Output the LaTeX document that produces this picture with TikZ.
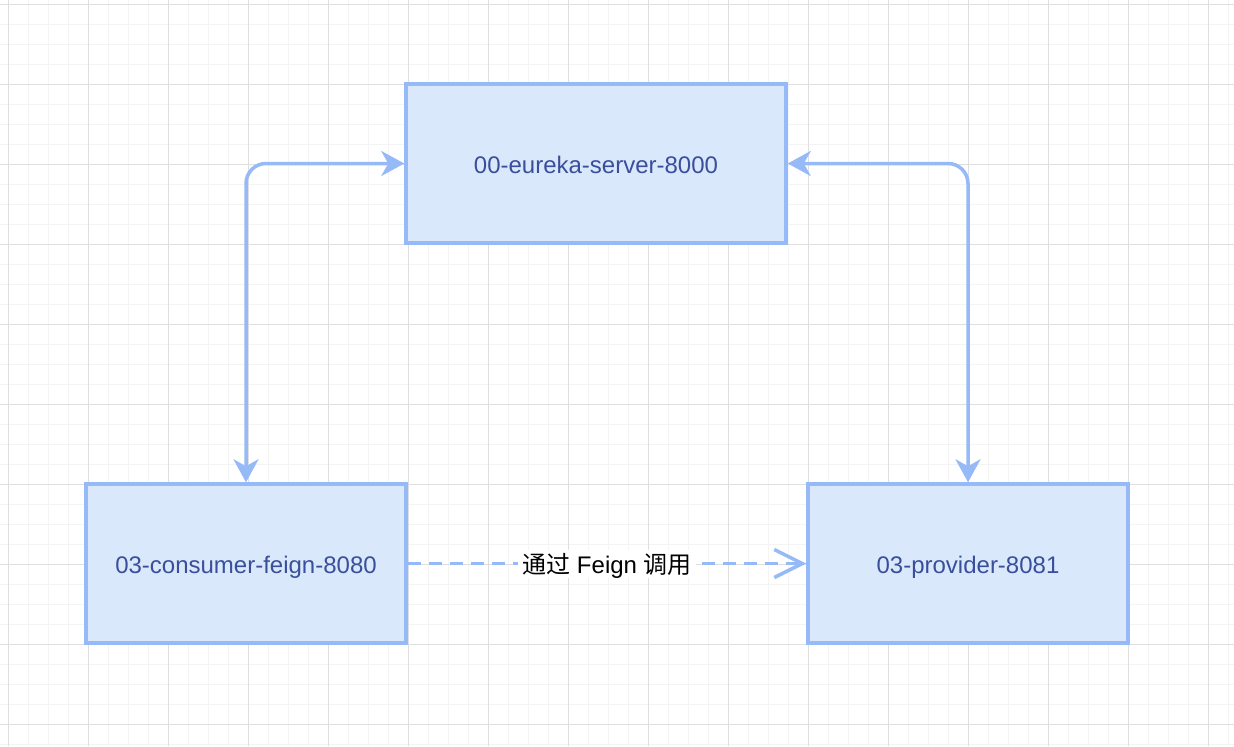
\documentclass[tikz,border=0pt]{standalone}
\usepackage{fontspec}
\setmainfont{Liberation Sans}
\newfontfamily\cjk{Noto Sans CJK SC}
\usetikzlibrary{positioning,arrows.meta}
\usepackage{xcolor}

\definecolor{boxfill}{HTML}{DAE8FC}
\definecolor{boxline}{HTML}{96B9F8}
\definecolor{boxtext}{HTML}{3A4F9C}
\definecolor{gridminor}{HTML}{F4F4F4}
\definecolor{gridmajor}{HTML}{DFDFDF}

\tikzset{
  service/.style={draw=boxline, fill=boxfill, line width=1.75pt, text=boxtext,
    minimum width=160pt, minimum height=79.5pt, inner sep=0pt,
    text height=10pt, text depth=0pt, font=\fontsize{12pt}{14pt}\selectfont},
  register/.style={draw=boxline, line width=1.75pt, rounded corners=10pt,
    {Stealth[length=11.5pt,width=12.5pt,inset=3.5pt]}-{Stealth[length=11.5pt,width=12.5pt,inset=3.5pt]}},
  call/.style={draw=boxline, line width=1.75pt, dash pattern=on 6.5pt off 4pt,
    -{Straight Barb[length=14pt,width=14pt]}},
  minorgrid/.style={draw=gridminor, line width=0.5pt},
  majorgrid/.style={draw=gridmajor, line width=0.5pt}
}

\begin{document}
\begin{tikzpicture}[x=0.5pt,y=-0.5pt]

\useasboundingbox (0,0) rectangle (1234,746);
\fill[white] (0,0) rectangle (1234,746);

% grid
\foreach \x in {8,28,...,1228} \draw[minorgrid] (\x,0) -- (\x,746);
\foreach \y in {4,24,...,744} \draw[minorgrid] (0,\y) -- (1234,\y);
\foreach \x in {8,88,...,1208} \draw[majorgrid] (\x,0) -- (\x,746);
\foreach \y in {4,84,...,724} \draw[majorgrid] (0,\y) -- (1234,\y);

% services
\node[service, minimum width=190pt] (eureka) at (596,163.5) {00-eureka-server-8000};
\node[service] (consumer) at (246,563.5) {03-consumer-feign-8080};
\node[service] (provider) at (968,563.5) {03-provider-8081};

% connectors
\draw[register] (consumer.north) |- (eureka.west);
\draw[register] (eureka.east) -| (provider.north);
\draw[call] (consumer.east) -- node[fill=white, inner sep=2pt, text height=10pt, text depth=0pt,
  font=\fontsize{12pt}{14pt}\selectfont] {{\cjk 通过} Feign {\cjk 调用}} (provider.west);

\end{tikzpicture}
\end{document}
